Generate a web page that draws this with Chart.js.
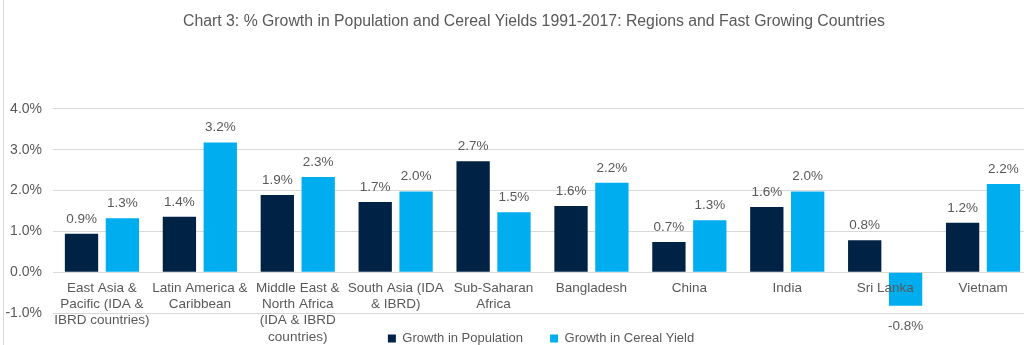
<!DOCTYPE html>
<html>
<head>
<meta charset="utf-8">
<script src="https://cdn.jsdelivr.net/npm/chart.js@4"></script>
<style>
  html, body { margin: 0; padding: 0; background: #fff; overflow: hidden; }
  #wrap { position: relative; width: 1024px; height: 345px; overflow: hidden; }
  #wrap:before { content: ''; position: absolute; left: 3px; top: 0; bottom: 0; border-left: 1px solid #d9d9d9; }
</style>
</head>
<body>
<div id="wrap"><canvas id="myChart" width="1032" height="345"></canvas></div>
<script>
// categorias (etiquetas del eje x, ya partidas en lineas)
var categorias = [
  ['East Asia &', 'Pacific (IDA &', 'IBRD countries)'],
  ['Latin America &', 'Caribbean'],
  ['Middle East &', 'North Africa', '(IDA & IBRD', 'countries)'],
  ['South Asia (IDA', '& IBRD)'],
  ['Sub-Saharan', 'Africa'],
  'Bangladesh', 'China', 'India', 'Sri Lanka', 'Vietnam'
];
var poblacion = [0.94, 1.36, 1.89, 1.72, 2.72, 1.62, 0.74, 1.60, 0.78, 1.21];
var cereal = [1.32, 3.18, 2.33, 1.98, 1.47, 2.19, 1.27, 1.98, -0.82, 2.16];
var ticksY = [-1, 0, 1, 2, 3, 4];

var gris = '#595959';
var fuente = 'Arial, "Liberation Sans", sans-serif';

// etiquetas de datos encima (o debajo) de cada barra
var etiquetas = {
  id: 'etiquetas',
  afterDatasetsDraw: function(chart) {
    var c = chart.ctx;
    c.save();
    c.font = '13.5px ' + fuente;
    c.fillStyle = gris;
    c.textAlign = 'center';
    chart.data.datasets.forEach(function(ds, i) {
      chart.getDatasetMeta(i).data.forEach(function(bar, j) {
        var v = ds.data[j];
        var txt = v.toFixed(1) + '%';
        if (v >= 0) {
          c.textBaseline = 'alphabetic';
          c.fillText(txt, bar.x, bar.y - 11);
        } else {
          c.textBaseline = 'top';
          c.fillText(txt, bar.x, bar.y + 14);
        }
      });
    });
    c.restore();
  }
};

// mueve titulo y leyenda, como en el original
var desplazar = {
  id: 'desplazar',
  afterLayout: function(chart) {
    var t = chart.titleBlock;
    t.left += 18; t.right += 18;
    var l = chart.legend;
    l.left += 25; l.right += 25;
    l.top -= 8; l.bottom -= 8;
  }
};

const ctx = document.getElementById('myChart');
const myChart = new Chart(ctx, {
  type: 'bar',
  data: {
    labels: categorias,
    datasets: [{
      label: 'Growth in Population',
      data: poblacion,
      backgroundColor: '#002245'
    }, {
      label: 'Growth in Cereal Yield',
      data: cereal,
      backgroundColor: '#00AEEF'
    }]
  },
  options: {
    responsive: false,
    animation: false,
    layout: { padding: { left: 0, right: 0, top: 0, bottom: -18 } },
    categoryPercentage: 0.835,
    barPercentage: 0.815,
    scales: {
      x: {
        position: { y: 0 },
        grid: { display: false },
        border: { display: true, color: '#d9d9d9', width: 1 },
        ticks: {
          z: 1,
          color: gris,
          font: { family: fuente, size: 13.5, lineHeight: 1.2 },
          padding: 0,
          maxRotation: 0,
          autoSkip: false
        }
      },
      y: {
        min: -1,
        max: 4,
        afterBuildTicks: function(axis) {
          axis.ticks = ticksY.map(function(v) { return { value: v }; });
        },
        afterFit: function(axis) { axis.width = 53; },
        grid: { color: '#d9d9d9', drawTicks: false },
        border: { display: false },
        ticks: {
          color: gris,
          font: { family: fuente, size: 14 },
          padding: 11,
          callback: function(v) { return v.toFixed(1) + '%'; }
        }
      }
    },
    plugins: {
      title: {
        display: true,
        text: 'Chart 3: % Growth in Population and Cereal Yields 1991-2017: Regions and Fast Growing Countries',
        color: gris,
        font: { family: fuente, size: 15.8, weight: 'normal' },
        padding: { top: 12, bottom: 78 }
      },
      legend: {
        position: 'bottom',
        labels: {
          color: gris,
          font: { family: fuente, size: 13 },
          boxWidth: 8,
          boxHeight: 8,
          padding: 27
        }
      },
      tooltip: { enabled: false }
    }
  },
  plugins: [etiquetas, desplazar]
});
</script>
</body>
</html>
